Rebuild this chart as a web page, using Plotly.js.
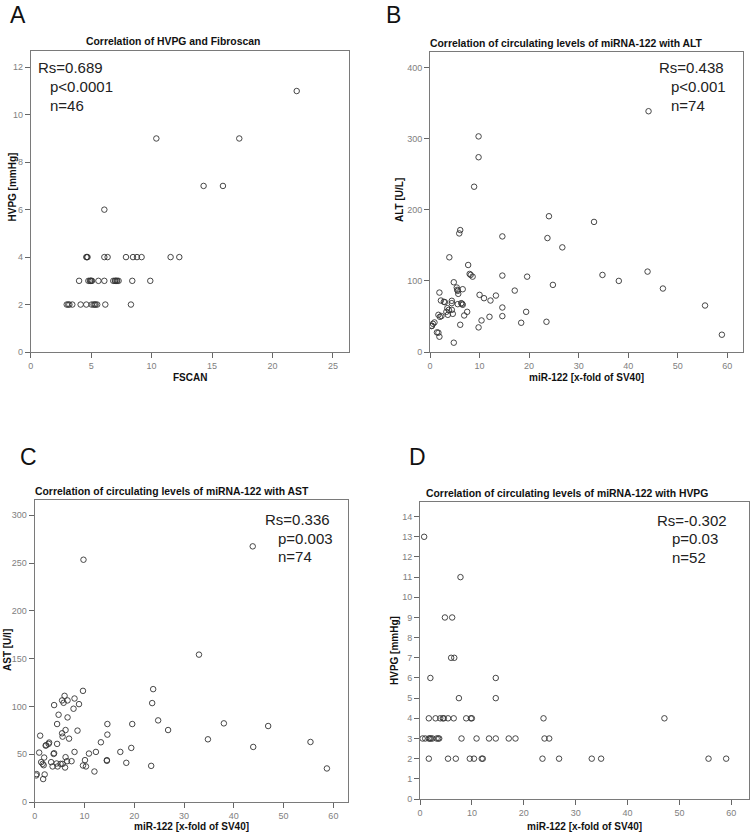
<!DOCTYPE html>
<html>
<head>
<meta charset="utf-8">
<script src="https://cdn.plot.ly/plotly-3.0.1.min.js"></script>
<style>html,body{margin:0;padding:0;background:#fff;}#chart{width:750px;height:834px;}</style>
</head>
<body>
<div id="chart"></div>
<script>
// Panel A: HVPG vs Fibroscan
const fscanA = [2.98,3.1,3.2,3.44,4.13,4.6,5.04,5.2,5.3,5.37,5.5,6.17,8.29,
  4.0,4.77,4.9,4.95,5.0,5.07,5.6,6.09,6.83,6.97,7.0,7.1,7.15,7.27,8.4,9.89,
  4.6,4.65,4.7,6.09,6.36,7.88,8.46,8.79,9.17,11.57,12.29,
  6.09,14.3,15.9,10.39,17.25,22.0];
const hvpgA = [2,2,2,2,2,2,2,2,2,2,2,2,2,
  3,3,3,3,3,3,3,3,3,3,3,3,3,3,3,3,
  4,4,4,4,4,4,4,4,4,4,4,
  6,7,7,9,9,11];

// Panel B: miR-122 vs ALT
const mirB = [44.1,9.8,9.8,8.9,24.0,33.1,6.1,5.9,14.6,23.7,26.7,3.9,7.7,43.9,8.0,8.2,8.6,14.6,19.6,34.8,
  38.1,4.8,24.8,47.0,5.4,5.5,5.6,6.6,1.9,17.1,5.7,10.0,10.9,13.3,12.2,2.2,2.8,3.0,4.4,4.4,
  5.6,6.3,6.5,6.6,55.5,3.5,3.8,4.4,4.6,3.3,14.6,7.5,19.4,3.6,1.7,6.9,2.0,2.3,14.6,12.0,
  10.4,18.4,23.5,0.9,0.6,0.4,0.3,6.1,9.8,1.4,1.7,1.9,4.8,58.9];
const altB = [338.7,303.3,274,232.5,191,183,171.5,166.8,162.6,160.3,147.2,133.2,122.4,113.1,109.8,108.4,106,107.5,106,108.4,
  100,98.1,94.4,89.3,90.7,87.4,86,88.3,83.6,86.4,81.8,80.4,75.7,79.4,72.4,72.4,70.6,70.1,72,68.7,
  67.3,68.7,67.8,66.4,65.4,61.7,59.3,59.3,53.7,56.5,62.6,56.5,56.5,52.3,52.3,51.4,49.5,50.5,50.5,49.5,
  44.4,41.1,42.5,41.6,39.7,36.9,36.4,38.3,34.6,27.6,27.1,21.5,13.1,24.3];

// Panel C: miR-122 vs AST
const mirC = [33.0,23.8,9.7,23.6,6.0,5.5,6.6,5.8,8.0,8.9,7.8,3.9,4.8,4.5,6.6,8.6,6.2,5.5,5.6,6.9,
  1.1,4.5,2.9,2.8,2.3,2.2,8.0,0.9,3.9,3.8,1.9,6.2,1.3,1.6,1.8,3.3,3.6,4.4,4.6,5.2,
  5.6,6.5,7.4,6.1,9.7,10.3,10.1,10.9,12.3,13.3,14.6,14.6,14.5,14.5,17.2,19.6,19.4,24.8,26.8,18.4,
  23.4,12.0,2.0,1.7,0.4,0.3,38.0,34.8,46.9,43.9,55.4,58.7,9.8,43.8];
const astC = [154.2,118.1,116.3,103.5,111.1,106.3,106.3,103.8,108.3,102.4,97.6,101.4,91.3,81.6,88.5,74.7,75.3,71.9,68.4,66.3,
  69.4,60.8,62.2,60.8,59.4,59.0,52.4,51.7,51.0,50.3,46.5,46.9,41.7,39.9,38.5,41.7,37.2,40.3,37.2,39.9,
  39.9,42.7,42.7,36.1,38.2,37.2,43.8,50.7,52.4,62.5,81.6,70.5,43.8,43.1,52.4,81.6,56.6,85.4,75.3,41.0,
  37.8,31.9,28.8,24.0,29.2,27.8,82.3,65.6,79.5,57.6,62.8,35.1,253.5,267.5];

// Panel D: miR-122 vs HVPG
const mirD = [0.8,7.8,4.8,6.2,6.0,6.6,2.0,14.6,7.5,14.6,
  1.7,3.0,3.9,4.4,4.6,5.4,6.5,8.9,9.8,10.0,23.8,47.1,
  0.5,1.0,1.7,1.9,2.1,2.4,3.2,3.5,3.7,8.0,10.9,13.3,14.6,17.1,18.4,24.0,24.9,
  1.7,5.4,6.9,9.6,10.4,11.9,12.1,23.6,26.8,33.1,34.9,55.6,59.0];
const hvpgD = [13,11,9,9,7,7,6,6,5,5,
  4,4,4,4,4,4,4,4,4,4,4,4,
  3,3,3,3,3,3,3,3,3,3,3,3,3,3,3,3,3,
  2,2,2,2,2,2,2,2,2,2,2,2,2];

const panelTitles = ['Correlation of HVPG and Fibroscan',
  'Correlation of circulating levels of miRNA-122 with ALT',
  'Correlation of circulating levels of miRNA-122 with AST',
  'Correlation of circulating levels of miRNA-122 with HVPG'];
const xLabels = ['FSCAN','miR-122 [x-fold of SV40]','miR-122 [x-fold of SV40]','miR-122 [x-fold of SV40]'];
const yLabels = ['HVPG [mmHg]','ALT [U/L]','AST [U/l]','HVPG [mmHg]'];
const panelLetters = ['A','B','C','D'];
const statsText = [['Rs=0.689','p<0.0001','n=46'],['Rs=0.438','p<0.001','n=74'],
  ['Rs=0.336','p=0.003','n=74'],['Rs=-0.302','p=0.03','n=52']];

const W = 750, H = 834;
const px = v => v / W;
const py = v => 1 - v / H;
const FONT = 'Arial, Liberation Sans, sans-serif';

const marker = {symbol:'circle-open', size:5.5, color:'#333', line:{width:0.9, color:'#333'}};
const datasets = [[fscanA,hvpgA],[mirB,altB],[mirC,astC],[mirD,hvpgD]];
const traces = datasets.map((d,i) => ({
  type:'scatter', mode:'markers', x:d[0], y:d[1],
  xaxis: i===0?'x':'x'+(i+1), yaxis: i===0?'y':'y'+(i+1),
  marker: marker, hoverinfo:'skip', showlegend:false
}));

// geometry (pixels)
const geo = [
  {l:30.7, r:348.7, t:50.7, b:352, xr:[0,26.3], yr:[0,12.7], xd:5, yd:2},
  {l:430, r:742.7, t:52.3, b:352, xr:[0,63.1], yr:[0,421.6], xd:10, yd:100},
  {l:34.7, r:348.3, t:500, b:802, xr:[0,63.0], yr:[0,316], xd:10, yd:50},
  {l:420, r:749, t:501.7, b:799, xr:[0,63.4], yr:[0,14.74], xd:10, yd:1}
];

function axis(dom, range, dtick, anchor) {
  return {domain:dom, range:range, dtick:dtick, tick0:0, anchor:anchor,
    showgrid:false, zeroline:false, showline:true, mirror:true,
    linecolor:'#7a7a7a', linewidth:1, ticks:'outside', ticklen:5, tickwidth:1,
    tickcolor:'#666', tickfont:{family:FONT, size:9, color:'#808080'}, fixedrange:true};
}

const layout = {width:W, height:H, margin:{l:0,r:0,t:0,b:0}, paper_bgcolor:'#fff', plot_bgcolor:'#fff',
  showlegend:false, annotations:[]};

geo.forEach((g,i) => {
  const xn = i===0?'xaxis':'xaxis'+(i+1);
  const yn = i===0?'yaxis':'yaxis'+(i+1);
  const xa = i===0?'x':'x'+(i+1);
  const ya = i===0?'y':'y'+(i+1);
  layout[xn] = axis([px(g.l), px(g.r)], g.xr, g.xd, ya);
  layout[yn] = axis([py(g.b), py(g.t)], g.yr, g.yd, xa);
});

const ann = layout.annotations;
function addText(text, x, y, opts) {
  ann.push(Object.assign({text:text, x:px(x), y:py(y), xref:'paper', yref:'paper',
    showarrow:false, xanchor:'left', yanchor:'middle'}, opts));
}
const titlePos = [[172.5,41.7],[566.7,43.3],[171.7,491.7],[566.7,493.3]];
const xlabPos = [[190,377.7],[586.7,377.7],[191.5,826.7],[584.5,826]];
const ylabPos = [[12.5,187],[399,200],[7,650],[394,651]];
const letterPos = [[8,15],[384,15],[18,457],[407,457]];
const statPos = [
  [[35.7,67.7],[47.7,86.7],[47.7,105]],
  [[656.7,67.7],[669.3,86.7],[669.3,105]],
  [[263.3,519.3],[276,538.3],[276,556.7]],
  [[655,520],[670,538.3],[670,557.7]]
];
for (let i=0;i<4;i++) {
  addText('<b>'+panelTitles[i]+'</b>', titlePos[i][0], titlePos[i][1],
    {xanchor:'center', font:{family:FONT, size:10.4, color:'#111'}});
  addText('<b>'+xLabels[i]+'</b>', xlabPos[i][0], xlabPos[i][1],
    {xanchor:'center', font:{family:FONT, size:10, color:'#111'}});
  addText('<b>'+yLabels[i]+'</b>', ylabPos[i][0], ylabPos[i][1],
    {xanchor:'center', textangle:-90, font:{family:FONT, size:10, color:'#111'}});
  addText(panelLetters[i], letterPos[i][0], letterPos[i][1],
    {font:{family:FONT, size:23, color:'#111'}});
  for (let k=0;k<3;k++) {
    addText(statsText[i][k], statPos[i][k][0], statPos[i][k][1],
      {font:{family:FONT, size:15, color:'#222'}});
  }
}

Plotly.newPlot('chart', traces, layout, {staticPlot:true, displayModeBar:false});
</script>
</body>
</html>
